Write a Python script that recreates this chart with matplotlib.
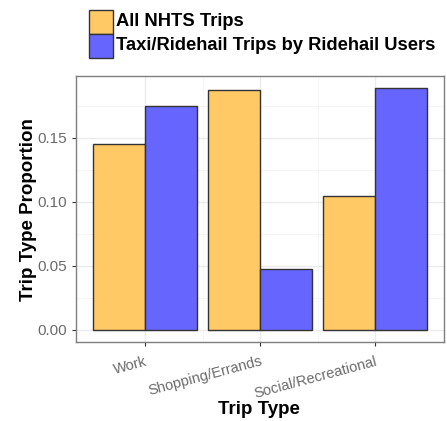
import matplotlib
matplotlib.use("Agg")
import matplotlib.pyplot as plt
import numpy as np
from matplotlib.patches import Rectangle

categories = ["Work", "Shopping/Errands", "Social/Recreational"]
series_names = ["All NHTS Trips", "Taxi/Ridehail Trips by Ridehail Users"]
nhts = [0.1454, 0.1870, 0.1044]
ridehail = [0.1748, 0.0472, 0.1887]
yticks = [0.00, 0.05, 0.10, 0.15]
ytick_labels = ["0.00", "0.05", "0.10", "0.15"]

plt.rcParams['font.family'] = ['Liberation Sans', 'DejaVu Sans']
colors = ["#FFC966", "#6666FF"]
edge = "#333333"

fig = plt.figure(figsize=(4.47, 4.21), dpi=100)
ax = fig.add_axes([76/447, 1-342/421, (444-76)/447, (342-76)/421])

x = np.arange(1, len(categories) + 1)
w = 0.45
ax.bar(x - w/2, nhts, width=w, color=colors[0], edgecolor=edge, linewidth=1.0, zorder=3)
ax.bar(x + w/2, ridehail, width=w, color=colors[1], edgecolor=edge, linewidth=1.0, zorder=3)

ax.set_xlim(0.4, 3.6)
ymax = max(max(nhts), max(ridehail))
ax.set_ylim(-0.05*ymax, 1.05*ymax)
ax.set_yticks(yticks)
ax.set_yticklabels(ytick_labels)
ax.set_yticks([0.025, 0.075, 0.125, 0.175], minor=True)
ax.set_xticks(x)
ax.set_xticklabels(categories)
ax.set_xticks([1.5, 2.5], minor=True)
ax.grid(True, which='major', color='#EBEBEB', linewidth=1.0, zorder=0)
ax.grid(True, which='minor', color='#F4F4F4', linewidth=0.6, zorder=0)
ax.tick_params(which='minor', length=0)
ax.tick_params(which='major', length=3, color='#333333', labelcolor='#6B6B6B', labelsize=11)
ax.tick_params(axis='x', pad=6)
for s in ax.spines.values():
    s.set_color('#7F7F7F')
    s.set_linewidth(1.0)

for lbl in ax.get_xticklabels():
    lbl.set_fontsize(10.5)
    lbl.set_rotation(15)
    lbl.set_ha('right')
    lbl.set_va('top')
    lbl.set_rotation_mode('anchor')

fig.text(29/447, 1-210/421, "Trip Type Proportion", fontsize=13.5, fontweight='bold',
         rotation=90, ha='center', va='center')
fig.text(259/447, 1-410/421, "Trip Type", fontsize=13.5, fontweight='bold',
         ha='center', va='center')

# legend at top
for i, (name, c) in enumerate(zip(series_names, colors)):
    y0 = 1 - (34 + 24*i)/421
    fig.patches.append(Rectangle((89/447, y0), 24/447, 24/421, transform=fig.transFigure,
                                 facecolor=c, edgecolor=edge, linewidth=1.0))
    fig.text(116/447, y0 + 12/421, name, fontsize=13.2, fontweight='bold', va='center', ha='left')

fig.savefig("out.png", dpi=100)
